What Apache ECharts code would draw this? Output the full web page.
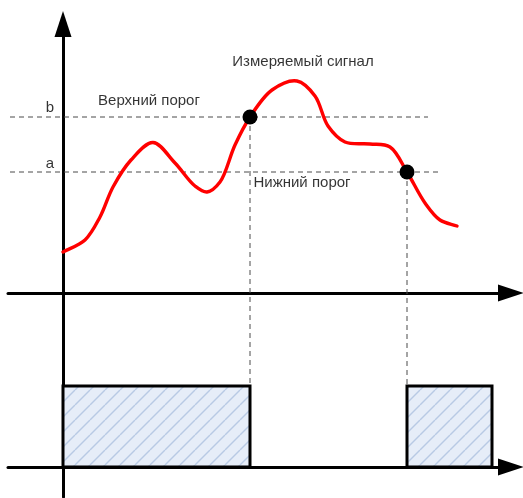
<!DOCTYPE html>
<html>
<head>
<meta charset="utf-8">
<script src="https://cdn.jsdelivr.net/npm/echarts@6/dist/echarts.min.js"></script>
<style>
html,body{margin:0;padding:0;background:#fff;}
#chart{width:523px;height:498px;}
</style>
</head>
<body>
<div id="chart"></div>
<script>
// ---- data ----
const signalTime  = [0.00, 0.44, 0.74, 1.00, 1.36, 1.80, 2.24, 2.64, 2.88, 3.14, 3.44, 3.74, 4.18, 4.68, 5.04, 5.30, 5.64, 6.14, 6.54, 6.88, 7.24, 7.54, 7.88];
const signalValue = [4.1, 5.3, 7.6, 10.6, 13.3, 15.05, 13.0, 10.7, 10.1, 11.1, 14.8, 17.6, 20.3, 21.2, 19.7, 16.7, 15.1, 14.9, 14.6, 12.1, 9.0, 7.3, 6.7];
const thresholdNames  = ['b', 'a'];
const thresholdValues = [17.6, 12.1];
const thresholdEnds   = [7.30, 7.58];
const crossTimes  = [3.74, 6.88];
const crossValues = [17.6, 12.1];
const pulseStarts = [0, 6.88];
const pulseEnds   = [3.74, 8.58];
const textLabels  = ['Измеряемый сигнал', 'Верхний порог', 'Нижний порог', 'b', 'a'];
const textTimes   = [4.80, 1.72, 4.78, -0.26, -0.26];
const textValues  = [23.1, 19.2, 11.0, 18.5, 12.9];

// ---- pattern ----
function hatchPattern() {
  const c = document.createElement('canvas');
  c.width = 15; c.height = 15;
  const g = c.getContext('2d');
  g.fillStyle = '#e6edf8';
  g.fillRect(0, 0, 15, 15);
  g.strokeStyle = '#b8cae4';
  g.lineWidth = 1.4;
  for (const o of [-15, 0, 15]) {
    g.beginPath();
    g.moveTo(o, 15);
    g.lineTo(o + 15, 0);
    g.stroke();
  }
  return c;
}
const pattern = { image: hatchPattern(), repeat: 'repeat' };

// Centripetal Catmull-Rom spline through pixel points -> SVG path
function splinePath(pts) {
  const n = pts.length;
  const P = [[2 * pts[0][0] - pts[1][0], 2 * pts[0][1] - pts[1][1]]].concat(pts, [[2 * pts[n - 1][0] - pts[n - 2][0], 2 * pts[n - 1][1] - pts[n - 2][1]]]);
  const dist = (a, b) => Math.pow(Math.hypot(b[0] - a[0], b[1] - a[1]), 0.5) || 1e-6;
  let d = 'M' + pts[0][0] + ' ' + pts[0][1];
  for (let i = 1; i < P.length - 2; i++) {
    const p0 = P[i - 1], p1 = P[i], p2 = P[i + 1], p3 = P[i + 2];
    const d1 = dist(p0, p1), d2 = dist(p1, p2), d3 = dist(p2, p3);
    const t1 = [0, 1].map(k => ((p1[k] - p0[k]) / d1 - (p2[k] - p0[k]) / (d1 + d2) + (p2[k] - p1[k]) / d2) * d2);
    const t2 = [0, 1].map(k => ((p2[k] - p1[k]) / d2 - (p3[k] - p1[k]) / (d2 + d3) + (p3[k] - p2[k]) / d3) * d2);
    const c1 = [p1[0] + t1[0] / 3, p1[1] + t1[1] / 3];
    const c2 = [p2[0] - t2[0] / 3, p2[1] - t2[1] / 3];
    d += ' C' + c1[0] + ' ' + c1[1] + ' ' + c2[0] + ' ' + c2[1] + ' ' + p2[0] + ' ' + p2[1];
  }
  return d;
}

const chart = echarts.init(document.getElementById('chart'), null, { renderer: 'canvas' });
const FONT = '"Liberation Sans", Arial, sans-serif';
const gridBox = { left: 8, right: 12, top: 24, bottom: 1 };
const axisArrow = {
  show: true, onZero: true,
  symbol: ['none', 'triangle'], symbolSize: [17, 26],
  lineStyle: { color: '#000', width: 3 }
};
const hidden = { axisTick: { show: false }, axisLabel: { show: false }, splitLine: { show: false } };
const dashStyle = { color: '#4a4a4a', width: 1, type: [5, 4] };

const thresholdSeries = thresholdValues.map((v, i) => ({
  name: thresholdNames[i], type: 'line', xAxisIndex: 0, yAxisIndex: 0, silent: true, symbol: 'none',
  data: [[-1.06, v], [thresholdEnds[i], v]],
  lineStyle: dashStyle, z: 2
}));

chart.setOption({
  animation: false,
  backgroundColor: '#fff',
  grid: [Object.assign({}, gridBox), Object.assign({}, gridBox)],
  xAxis: [
    Object.assign({ type: 'value', gridIndex: 0, min: -1.1, max: 8.96, axisLine: axisArrow }, hidden),
    Object.assign({ type: 'value', gridIndex: 1, min: -1.1, max: 8.96, axisLine: axisArrow }, hidden)
  ],
  yAxis: [
    Object.assign({ type: 'value', gridIndex: 0, min: -20.4, max: 26.9, axisLine: axisArrow }, hidden),
    Object.assign({ type: 'value', gridIndex: 1, min: -0.3704, max: 5.469, axisLine: { show: false } }, hidden)
  ],
  series: thresholdSeries.concat([
    {
      name: 'Измеряемый сигнал', type: 'custom', xAxisIndex: 0, yAxisIndex: 0, silent: true,
      data: signalTime.map((t, i) => [t, signalValue[i]]),
      renderItem: function (params, api) {
        if (params.dataIndex !== 0) return null;
        const pts = signalTime.map((t, i) => api.coord([t, signalValue[i]]));
        return {
          type: 'path',
          shape: { pathData: splinePath(pts) },
          style: { fill: 'none', stroke: '#ff0000', lineWidth: 3.4, lineCap: 'round', lineJoin: 'round' }
        };
      },
      z: 5
    },
    {
      type: 'scatter', xAxisIndex: 0, yAxisIndex: 0,
      data: crossTimes.map((t, i) => [t, crossValues[i]]),
      symbol: 'circle', symbolSize: 15, itemStyle: { color: '#000', opacity: 1 }, z: 6
    },
    {
      type: 'custom', xAxisIndex: 1, yAxisIndex: 1,
      data: pulseStarts.map((s, i) => [s, pulseEnds[i]]),
      renderItem: function (params, api) {
        const p0 = api.coord([api.value(0), 0]);
        const p1 = api.coord([api.value(1), 1]);
        return {
          type: 'rect',
          shape: { x: p0[0], y: p1[1], width: p1[0] - p0[0], height: p0[1] - p1[1] },
          style: { fill: pattern, stroke: '#000', lineWidth: 3 }
        };
      },
      z: 4
    },
    {
      type: 'scatter', xAxisIndex: 0, yAxisIndex: 0, silent: true,
      data: textLabels.map((s, i) => ({ value: [textTimes[i], textValues[i]], name: s })),
      symbolSize: 0,
      label: {
        show: true, position: 'inside', formatter: '{b}',
        fontFamily: FONT, fontSize: 15, color: '#000', align: 'center', verticalAlign: 'middle'
      },
      z: 7
    }
  ])
});

// vertical drop lines from crossing points to the output level
const drops = crossTimes.map((t, i) => {
  const top = chart.convertToPixel({ gridIndex: 0 }, [t, crossValues[i]]);
  const bottom = chart.convertToPixel({ gridIndex: 1 }, [t, 1]);
  return {
    type: 'line', silent: true, z: 1,
    shape: { x1: top[0], y1: top[1], x2: bottom[0], y2: bottom[1] },
    style: { stroke: '#4a4a4a', lineWidth: 1, lineDash: [5, 4] }
  };
});
chart.setOption({ graphic: drops });
</script>
</body>
</html>
